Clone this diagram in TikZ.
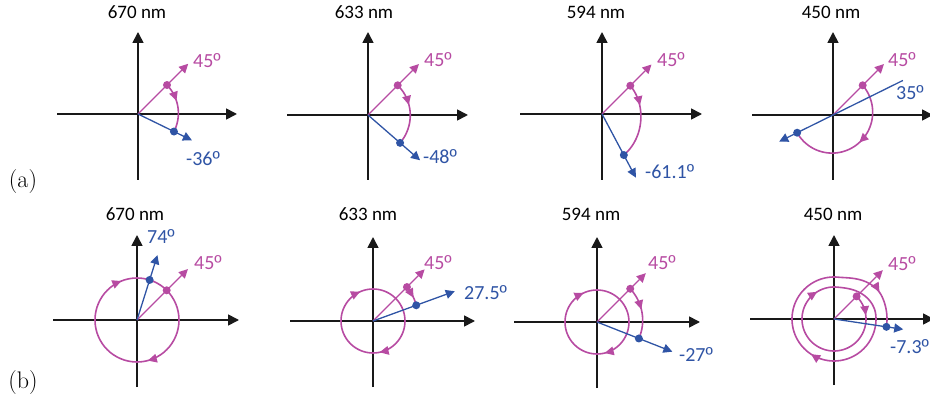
\documentclass[tikz,border=0pt]{standalone}
\usepackage{fontspec}
\newfontfamily\carl{Carlito}
\newfontfamily\ordf{Liberation Sans}
\newcommand\og{{\ordf º}}
\usetikzlibrary{arrows.meta}
\definecolor{mag}{RGB}{183,75,162}
\definecolor{blu}{RGB}{47,84,165}
\definecolor{axc}{RGB}{25,25,25}
\tikzset{
  ax/.style={draw=axc, line width=1.7pt, -{Triangle[length=11pt,width=11pt]}},
  mline/.style={draw=mag, line width=1.1pt, -{Triangle[length=9pt,width=9pt]}},
  bline/.style={draw=blu, line width=1.3pt, -{Triangle[length=9pt,width=9pt]}},
  bplain/.style={draw=blu, line width=1.3pt},
  marc/.style={draw=mag, line width=1.6pt},
  mdot/.style={circle, fill=mag, inner sep=0pt, minimum size=8pt},
  bdot/.style={circle, fill=blu, inner sep=0pt, minimum size=8pt},
  ttl/.style={font=\carl\fontsize{19}{22}\selectfont, text=black, inner sep=0pt},
  mlab/.style={font=\carl\fontsize{20}{23}\selectfont, text=mag, anchor=west, inner sep=0pt},
  blab/.style={font=\carl\fontsize{20}{23}\selectfont, text=blu, anchor=west, inner sep=0pt},
  plab/.style={font=\fontsize{24}{28}\selectfont, inner sep=0pt},
}
% clockwise arrowhead with its tip at polar point (#1:#2)
\newcommand\cwtip[2]{\fill[mag] (#1:#2) -- +({#1+116.6}:10.06) -- +({#1+63.4}:10.06) -- cycle;}
\begin{document}
\begin{tikzpicture}[x=1pt,y=1pt,
  declare function={clp(\x)=min(max(\x,0),1); sm(\x)=3*clp(\x)*clp(\x)-2*clp(\x)*clp(\x)*clp(\x); sr(\t)=32+10*sm((\t-320)/80)+11*sm((\t-680)/60);}]
\useasboundingbox (0,0) rectangle (930,-406);

% ---------------- row (a) ----------------
% 670 nm
\begin{scope}[shift={(138,-114)}]
  \coordinate (oA1) at (0,0);
  \coordinate (lA1) at (-81,0); \coordinate (rA1) at (99,0);
  \coordinate (dA1) at (0,-66); \coordinate (uA1) at (0,82);
  \draw[ax] (lA1) -- (rA1);
  \draw[ax] (dA1) -- (uA1);
  \draw[marc] plot[samples=40, domain=0:1, variable=\s] ({45-71*\s}:{41-1*\s});
  \cwtip{19}{40.6}
  \coordinate (mtA1) at (45:71);
  \coordinate (btA1) at (-26:60);
  \draw[mline] (oA1) -- (mtA1);
  \draw[bline] (oA1) -- (btA1);
  \node[mdot] (mdA1) at (45:41) {};
  \node[bdot] (bdA1) at (-26:40) {};
\end{scope}
\node[ttl] (tA1) at (137,-12) {670 nm};
\node[mlab] (mlA1) at (193,-61) {45\og};
\node[blab] (blA1) at (186,-159) {-36\og};

% 633 nm
\begin{scope}[shift={(368,-115)}]
  \coordinate (oA2) at (0,0);
  \coordinate (lA2) at (-81,0); \coordinate (rA2) at (100,0);
  \coordinate (dA2) at (0,-65); \coordinate (uA2) at (0,83);
  \draw[ax] (lA2) -- (rA2);
  \draw[ax] (dA2) -- (uA2);
  \draw[marc] plot[samples=40, domain=0:1, variable=\s] ({45-86*\s}:{42+0.5*\s});
  \cwtip{14}{42}
  \coordinate (mtA2) at (45:72);
  \coordinate (btA2) at (-41:69);
  \draw[mline] (oA2) -- (mtA2);
  \draw[bline] (oA2) -- (btA2);
  \node[mdot] (mdA2) at (45:42) {};
  \node[bdot] (bdA2) at (-41:42.5) {};
\end{scope}
\node[ttl] (tA2) at (364,-12) {633 nm};
\node[mlab] (mlA2) at (424,-60) {45\og};
\node[blab] (blA2) at (423,-157) {-48\og};

% 594 nm
\begin{scope}[shift={(602,-114)}]
  \coordinate (oA3) at (0,0);
  \coordinate (lA3) at (-82,0); \coordinate (rA3) at (100,0);
  \coordinate (dA3) at (0,-66); \coordinate (uA3) at (0,82);
  \draw[ax] (lA3) -- (rA3);
  \draw[ax] (dA3) -- (uA3);
  \draw[marc] plot[samples=50, domain=0:1, variable=\s] ({45-107*\s}:{40-4*sin(180*\s)+6.5*\s});
  \cwtip{13}{39}
  \coordinate (mtA3) at (45:70);
  \coordinate (btA3) at (-62:72);
  \draw[mline] (oA3) -- (mtA3);
  \draw[bline] (oA3) -- (btA3);
  \node[mdot] (mdA3) at (45:40) {};
  \node[bdot] (bdA3) at (-62:46.5) {};
\end{scope}
\node[ttl] (tA3) at (596,-12) {594 nm};
\node[mlab] (mlA3) at (657,-60) {45\og};
\node[blab] (blA3) at (645,-172) {-61.1\og};

% 450 nm
\begin{scope}[shift={(833,-115)}]
  \coordinate (oA4) at (0,0);
  \coordinate (lA4) at (-81,0); \coordinate (rA4) at (100,0);
  \coordinate (dA4) at (0,-65); \coordinate (uA4) at (0,83);
  \draw[ax] (lA4) -- (rA4);
  \draw[ax] (dA4) -- (uA4);
  \draw[marc] plot[samples=80, domain=0:1, variable=\s] ({45-198.7*\s}:{42-3*sin(180*\s)-2*\s});
  \cwtip{-46}{38}
  \coordinate (mtA4) at (45:72);
  \coordinate (bfA4) at (26.3:78);
  \coordinate (btA4) at (206.3:60);
  \draw[mline] (oA4) -- (mtA4);
  \draw[bplain] (oA4) -- (bfA4);
  \draw[bline] (oA4) -- (btA4);
  \node[mdot] (mdA4) at (45:42) {};
  \node[bdot] (bdA4) at (206.3:40) {};
\end{scope}
\node[ttl] (tA4) at (831,-12) {450 nm};
\node[mlab] (mlA4) at (888,-60) {45\og};
\node[blab] (blA4) at (896,-93) {35\og};

% ---------------- row (b) ----------------
% 670 nm
\begin{scope}[shift={(137,-320)}]
  \coordinate (oB1) at (0,0);
  \coordinate (lB1) at (-84,0); \coordinate (rB1) at (102,0);
  \coordinate (dB1) at (0,-67); \coordinate (uB1) at (0,85);
  \draw[ax] (lB1) -- (rB1);
  \draw[ax] (dB1) -- (uB1);
  \draw[marc] (oB1) circle[radius=42];
  \cwtip{112}{42}
  \cwtip{-75}{42}
  \coordinate (mtB1) at (45:72);
  \coordinate (btB1) at (72.5:68);
  \draw[mline] (oB1) -- (mtB1);
  \draw[bline] (oB1) -- (btB1);
  \node[mdot] (mdB1) at (45:42) {};
  \node[bdot] (bdB1) at (72.5:42) {};
\end{scope}
\node[ttl] (tB1) at (135,-214) {670 nm};
\node[mlab] (mlB1) at (194,-263) {45\og};
\node[blab] (blB1) at (147,-237) {74\og};

% 633 nm
\begin{scope}[shift={(373,-321)}]
  \coordinate (oB2) at (0,0);
  \coordinate (lB2) at (-83,0); \coordinate (rB2) at (102,0);
  \coordinate (dB2) at (0,-66); \coordinate (uB2) at (0,84);
  \draw[ax] (lB2) -- (rB2);
  \draw[ax] (dB2) -- (uB2);
  \draw[marc] (oB2) circle[radius=32];
  \cwtip{114}{32}
  \cwtip{-78}{32}
  \draw[marc] plot[samples=20, domain=0:1, variable=\s] ({45-25*\s}:{48-2*\s});
  \cwtip{30}{46.8}
  \coordinate (mtB2) at (45:73);
  \coordinate (btB2) at (20:87);
  \draw[mline] (oB2) -- (mtB2);
  \draw[bline] (oB2) -- (btB2);
  \node[mdot] (mdB2) at (45:48) {};
  \node[bdot] (bdB2) at (20:46) {};
\end{scope}
\node[ttl] (tB2) at (368,-214) {633 nm};
\node[mlab] (mlB2) at (424,-263) {45\og};
\node[blab] (blB2) at (464,-293) {27.5\og};

% 594 nm
\begin{scope}[shift={(597,-322)}]
  \coordinate (oB3) at (0,0);
  \coordinate (lB3) at (-83,0); \coordinate (rB3) at (103,0);
  \coordinate (dB3) at (0,-66); \coordinate (uB3) at (0,85);
  \draw[ax] (lB3) -- (rB3);
  \draw[ax] (dB3) -- (uB3);
  \draw[marc] (oB3) circle[radius=32];
  \cwtip{115}{32}
  \cwtip{-76}{32}
  \draw[marc] plot[samples=30, domain=0:1, variable=\s] ({45-66.5*\s}:{47-2*\s});
  \cwtip{16}{46}
  \coordinate (mtB3) at (45:69);
  \coordinate (btB3) at (-21.5:81);
  \draw[mline] (oB3) -- (mtB3);
  \draw[bline] (oB3) -- (btB3);
  \node[mdot] (mdB3) at (45:47) {};
  \node[bdot] (bdB3) at (-21.5:45) {};
\end{scope}
\node[ttl] (tB3) at (591,-214) {594 nm};
\node[mlab] (mlB3) at (648,-263) {45\og};
\node[blab] (blB3) at (679,-355) {-27\og};

% 450 nm
\begin{scope}[shift={(834,-319)}]
  \coordinate (oB4) at (0,0);
  \coordinate (lB4) at (-84,0); \coordinate (rB4) at (100,0);
  \coordinate (dB4) at (0,-66); \coordinate (uB4) at (0,84);
  \draw[ax] (lB4) -- (rB4);
  \draw[ax] (dB4) -- (uB4);
  \draw[marc] plot[samples=300, domain=0:773.5, variable=\t] ({45-\t}:{sr(\t)});
  \cwtip{7}{32}
  \cwtip{122}{32}
  \cwtip{-123}{42}
  \cwtip{31}{53}
  \coordinate (mtB4) at (45:69);
  \coordinate (btB4) at (-8.5:70);
  \draw[mline] (oB4) -- (mtB4);
  \draw[bline] (oB4) -- (btB4);
  \node[mdot] (mdB4) at (45:32) {};
  \node[bdot] (bdB4) at (-8.5:53) {};
\end{scope}
\node[ttl] (tB4) at (833,-214) {450 nm};
\node[mlab] (mlB4) at (888,-264) {45\og};
\node[blab] (blB4) at (890,-347) {-7.3\og};

% panel labels
\node[plab] (pa) at (23,-182) {(a)};
\node[plab] (pb) at (23,-383) {(b)};
\end{tikzpicture}
\end{document}
